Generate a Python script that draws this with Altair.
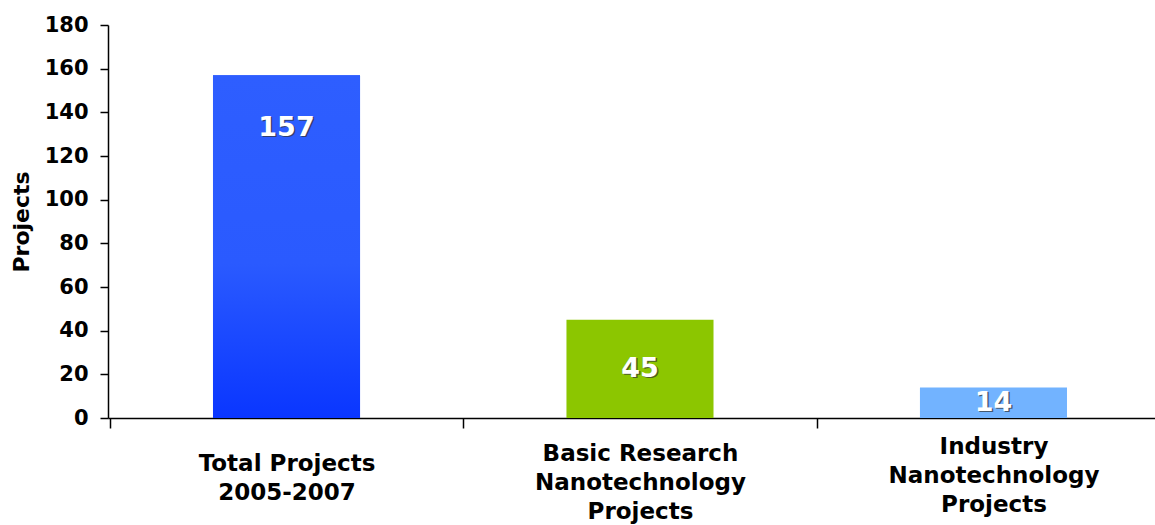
import altair as alt
import pandas as pd

# Chart values
categories = [
    "Total Projects|2005-2007",
    "Basic Research|Nanotechnology|Projects",
    "Industry|Nanotechnology|Projects",
]
projects = [157, 45, 14]
bar_colors = ["#2c5cff", "#8cc600", "#72b3ff"]
y_ticks = [0, 20, 40, 60, 80, 100, 120, 140, 160, 180]

FONT = "DejaVu Sans"

df = pd.DataFrame({"category": categories, "projects": projects})

x_enc = alt.X(
    "category:N",
    sort=categories,
    title=None,
    scale=alt.Scale(paddingInner=0.584, paddingOuter=0.273, align=0.544, round=False),
    axis=alt.Axis(
        bandPosition=0.5,
        tickOffset=-176.7,
        labelOffset=176.7,
        tickSize=10,
        tickWidth=1.5,
        tickColor="black",
        domainColor="black",
        domainWidth=1.5,
        labelAngle=0,
        labelFont=FONT,
        labelFontWeight="bold",
        labelFontSize=23,
        labelColor="black",
        labelBaseline="top",
        labelLineHeight=29,
        labelLimit=0,
        labelPadding={
            "condition": [
                {"test": f"datum.value == '{categories[1]}'", "value": 14},
                {"test": f"datum.value == '{categories[2]}'", "value": 7},
            ],
            "value": 24,
        },
        labelExpr="split(datum.label, '|')",
    ),
)

y_enc = alt.Y(
    "projects:Q",
    title="Projects",
    scale=alt.Scale(domain=[0, 180], nice=False),
    axis=alt.Axis(
        values=y_ticks,
        grid=False,
        tickSize=8,
        tickWidth=1.5,
        tickColor="black",
        domainColor="black",
        domainWidth=1.5,
        labelFont=FONT,
        labelFontWeight="bold",
        labelFontSize=21,
        labelColor="black",
        labelPadding=12,
        titleFont=FONT,
        titleFontWeight="bold",
        titleFontSize=22,
        titleColor="black",
        titlePadding=11,
    ),
)

base = alt.Chart(df).encode(x=x_enc)

bars = base.mark_bar().encode(
    y=y_enc,
    color=alt.Color("category:N", sort=categories,
                    scale=alt.Scale(domain=categories, range=bar_colors), legend=None),
)

# The total bar darkens slightly toward its base
total_bar = base.transform_filter(
    alt.datum.category == categories[0]
).mark_bar(
    color=alt.Gradient(
        gradient="linear",
        stops=[alt.GradientStop(color="#2e5eff", offset=0),
               alt.GradientStop(color="#2a5aff", offset=0.55),
               alt.GradientStop(color="#0a36ff", offset=1)],
        x1=0, x2=0, y1=0, y2=1,
    )
).encode(y=y_enc)

labelled = base.transform_calculate(
    label_y="datum.projects > 100 ? datum.projects - 24 : datum.projects / 2"
)

label_y = alt.Y("label_y:Q", scale=alt.Scale(domain=[0, 180], nice=False))

shadow = labelled.mark_text(
    font=FONT, fontWeight="bold", fontSize=27, color="#333333", opacity=0.7,
    baseline="middle", dx=1.5, dy=1.5,
).encode(y=label_y, text=alt.Text("projects:Q"))

labels = labelled.mark_text(
    font=FONT, fontWeight="bold", fontSize=27, color="white", baseline="middle",
).encode(y=label_y, text=alt.Text("projects:Q"))

chart = alt.layer(bars, total_bar, shadow, labels).properties(
    width=1047,
    height=393,
    autosize=alt.AutoSizeParams(type="none"),
    padding={"left": 108, "top": 25, "right": 0, "bottom": 107},
    background="white",
).configure_view(stroke=None)

chart.save("out.html", embed_options={"renderer": "svg", "actions": False})
